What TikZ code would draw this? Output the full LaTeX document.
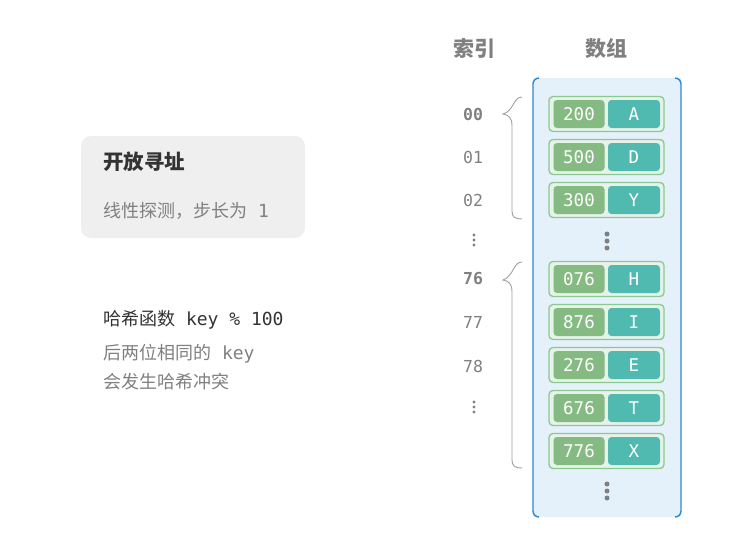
\documentclass[tikz,border=0pt]{standalone}
\usepackage{fontspec}
\setmainfont{Noto Sans CJK SC}
\newfontfamily\cjk{Noto Sans CJK SC}
\newfontfamily\mono{DejaVu Sans Mono}
\definecolor{arrfill}{HTML}{E4F0FA}
\definecolor{arrline}{HTML}{2B8AD6}
\definecolor{keyc}{HTML}{85BA82}
\definecolor{valc}{HTML}{50BAB1}
\definecolor{outc}{HTML}{8DC98E}
\definecolor{outfill}{HTML}{E6F3EA}
\definecolor{txtgray}{HTML}{808080}
\definecolor{txtdark}{HTML}{333333}
\definecolor{boxgray}{HTML}{EFEFEF}
\definecolor{bracec}{HTML}{A0A0A0}
\begin{document}
\begin{tikzpicture}[x=1pt,y=-1pt,
  outerbox/.style={draw=outc,line width=1.3pt,fill=outfill,rounded corners=4pt,minimum width=115pt,minimum height=35pt,inner sep=0pt},
  keybox/.style={fill=keyc,rounded corners=3.5pt,minimum width=51pt,minimum height=28pt,inner sep=0pt,text=white,font=\mono\fontsize{17.5}{17.5}\selectfont},
  valbox/.style={fill=valc,rounded corners=3.5pt,minimum width=52pt,minimum height=28pt,inner sep=0pt,text=white,font=\mono\fontsize{17.5}{17.5}\selectfont},
  idx/.style={text=txtgray,font=\mono\fontsize{16.5}{16.5}\selectfont},
  idxb/.style={text=txtgray,font=\mono\bfseries\fontsize{16.5}{16.5}\selectfont},
  header/.style={text=txtgray,font=\cjk\bfseries\fontsize{21}{21}\selectfont},
  lefttext/.style={anchor=west,inner sep=0pt},
  bracestyle/.style={draw=bracec,line width=0.9pt},
  dot/.style={circle,fill=txtgray,inner sep=0pt,minimum size=#1}
]
\useasboundingbox (0,0) rectangle (737,542);
% headers
\node[header] (hidx) at (474,49) {索引};
\node[header] (harr) at (606,49) {数组};
% array background
\fill[arrfill] (533,78) rectangle (681,517);
\draw[arrline,line width=1.4pt] (539,78) arc[start angle=90,end angle=180,radius=6pt] -- (533,511) arc[start angle=180,end angle=270,radius=6pt];
\draw[arrline,line width=1.4pt] (675,78) arc[start angle=90,end angle=0,radius=6pt] -- (681,511) arc[start angle=0,end angle=-90,radius=6pt];
% entries
\foreach \y/\k/\v/\n in {114/200/A/a,157/500/D/b,200/300/Y/c,279/076/H/d,322/876/I/e,365/276/E/f,408/676/T/g,451/776/X/h}{
  \node[outerbox] (o\n) at (606.5,\y) {};
  \node[keybox] (k\n) at (579,\y) {\k};
  \node[valbox] (v\n) at (634,\y) {\v};
}
% dots in array
\foreach \yy/\n in {241/p,491/q}{
  \node[dot=5pt] (\n1) at (607,\yy-7) {};
  \node[dot=5pt] (\n2) at (607,\yy) {};
  \node[dot=5pt] (\n3) at (607,\yy+7) {};
}
% index labels
\node[idxb] (i00) at (473,114) {00};
\node[idx] (i01) at (473,157) {01};
\node[idx] (i02) at (473,200) {02};
\node[idxb] (i76) at (473,279) {76};
\node[idx] (i77) at (473,322) {77};
\node[idx] (i78) at (473,366) {78};
\foreach \yy/\n in {240/r,407/s}{
  \node[dot=3.4pt] (\n1) at (474,\yy-5) {};
  \node[dot=3.4pt] (\n2) at (474,\yy) {};
  \node[dot=3.4pt] (\n3) at (474,\yy+5) {};
}
% braces
\draw[bracestyle] (522,97) .. controls (513,97) and (514,111) .. (503,114) .. controls (509,115) and (512,118) .. (512,126) -- (512,211) .. controls (512,217) and (515,219) .. (522,219);
\draw[bracestyle] (522,262) .. controls (513,262) and (514,276) .. (503,280) .. controls (509,281) and (512,284) .. (512,292) -- (512,460) .. controls (512,466) and (515,468) .. (522,468);
% left info box
\node[fill=boxgray,rounded corners=10pt,minimum width=224pt,minimum height=102pt,inner sep=0pt] (info) at (193,187) {};
\node[lefttext,text=txtdark,font=\cjk\bfseries\fontsize{20.5}{20.5}\selectfont] (title) at (103,162) {开放寻址};
\node[lefttext,text=txtgray,font=\cjk\fontsize{18}{18}\selectfont] (sub) at (103,211) {线性探测，步长为{\mono\ 1}};
% hash text
\node[lefttext,text=txtdark,font=\cjk\fontsize{18}{18}\selectfont] (hash) at (103,320) {哈希函数{\mono\ key\ \%\ 100}};
\node[lefttext,text=txtgray,font=\cjk\fontsize{18}{18}\selectfont] (l1) at (103,354) {后两位相同的{\mono\ key}};
\node[lefttext,text=txtgray,font=\cjk\fontsize{18}{18}\selectfont] (l2) at (103,382) {会发生哈希冲突};
\end{tikzpicture}
\end{document}
